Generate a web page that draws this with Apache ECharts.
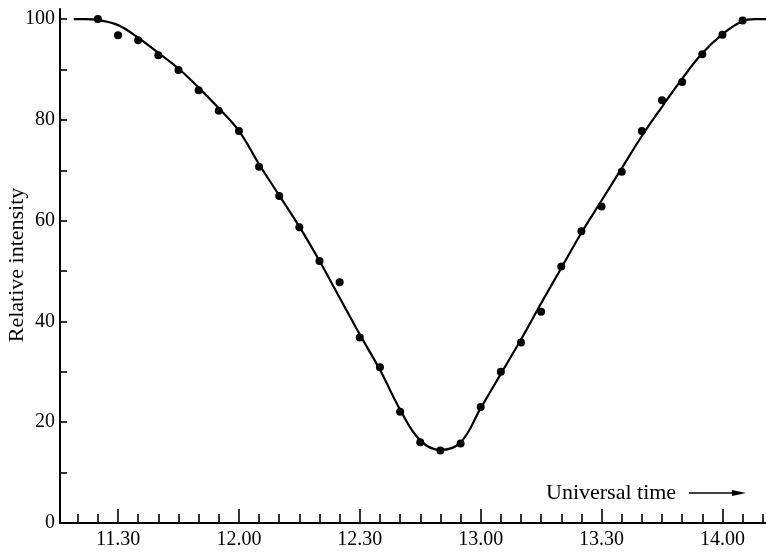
<!DOCTYPE html>
<html>
<head>
<meta charset="utf-8">
<script src="https://cdn.jsdelivr.net/npm/echarts@6/dist/echarts.min.js"></script>
<style>
html,body{margin:0;padding:0;background:#fff;}
#chart{width:766px;height:555px;}
</style>
</head>
<body>
<div id="chart"></div>
<script>
// Time is in minutes after 11.00 (Universal time)
const pointTimes = [25, 30, 35, 40, 45, 50, 55, 60, 65, 70, 75, 80, 85, 90, 95, 100, 105, 110, 115, 120, 125, 130, 135, 140, 145, 150, 155, 160, 165, 170, 175, 180, 185];
const pointValues = [100, 96.8, 95.8, 92.8, 89.9, 85.9, 81.8, 77.8, 70.7, 64.9, 58.7, 52.0, 47.8, 36.8, 30.9, 22.1, 16.0, 14.4, 15.8, 23.0, 30.0, 35.8, 41.9, 50.9, 57.9, 62.8, 69.7, 77.8, 83.9, 87.5, 93.0, 96.9, 99.7];

const curveTimes = [19, 22, 25, 30, 35, 40, 45, 50, 55, 60, 65, 70, 75, 80, 85, 90, 95, 100, 105, 110, 115, 120, 125, 130, 135, 140, 145, 150, 155, 160, 165, 170, 175, 180, 185, 188, 191];
const curveValues = [100, 100, 99.8, 98.8, 96.3, 93.3, 90.2, 86.4, 82.3, 77.8, 71.2, 65.0, 58.8, 52.0, 44.7, 37.4, 30.4, 22.5, 16.4, 14.5, 16.0, 22.8, 29.6, 36.4, 43.6, 50.6, 57.6, 64.0, 70.4, 76.8, 82.6, 88.2, 93.2, 97.0, 99.6, 100, 100];

const xLabelMinutes = [30, 60, 90, 120, 150, 180];
const xMinorTickMinutes = [20, 25, 35, 40, 45, 50, 55, 65, 70, 75, 80, 85, 95, 100, 105, 110, 115, 125, 130, 135, 140, 145, 155, 160, 165, 170, 175, 185, 190];
const yLabelValues = [0, 20, 40, 60, 80, 100];
const yTickValues = [0, 10, 20, 30, 40, 50, 60, 70, 80, 90, 100];

const yTitle = 'Relative intensity';
const xTitle = 'Universal time';

const FONT = '"Liberation Serif", "DejaVu Serif", serif';

function fmtTime(v) {
  const h = 11 + Math.floor(v / 60);
  const m = Math.round(v % 60);
  return h + '.' + (m < 10 ? '0' + m : m);
}

const chart = echarts.init(document.getElementById('chart'), null, {renderer: 'canvas'});

const X_MIN = 15.6, X_MAX = 190.8;

chart.setOption({
  animation: false,
  backgroundColor: '#fff',
  grid: {left: 60, right: 0, top: 9, bottom: 32, containLabel: false},
  xAxis: [
    {
      type: 'value', min: X_MIN, max: X_MAX, position: 'bottom',
      axisLine: {show: true, onZero: false, lineStyle: {color: '#000', width: 2}},
      axisTick: {show: true, inside: true, length: 14, lineStyle: {color: '#000', width: 1.6}, customValues: xLabelMinutes},
      axisLabel: {show: true, customValues: xLabelMinutes, formatter: fmtTime, color: '#000', fontFamily: FONT, fontSize: 20, margin: 7},
      splitLine: {show: false}
    },
    {
      type: 'value', min: X_MIN, max: X_MAX, position: 'bottom',
      axisLine: {show: false, onZero: false},
      axisTick: {show: true, inside: true, length: 9, lineStyle: {color: '#000', width: 1.6}, customValues: xMinorTickMinutes},
      axisLabel: {show: false},
      splitLine: {show: false}
    }
  ],
  yAxis: {
    type: 'value', min: 0, max: 102,
    axisLine: {show: true, onZero: false, lineStyle: {color: '#000', width: 2}},
    axisTick: {show: true, inside: true, length: 7, lineStyle: {color: '#000', width: 1.6}, customValues: yTickValues},
    axisLabel: {show: true, customValues: yLabelValues, color: '#000', fontFamily: FONT, fontSize: 20, margin: 5},
    splitLine: {show: false}
  },
  series: [
    {
      type: 'line', xAxisIndex: 0,
      data: curveTimes.map((t, i) => [t, curveValues[i]]),
      smooth: 0.4, showSymbol: false, symbol: 'none',
      lineStyle: {color: '#000', width: 2.2},
      silent: true
    },
    {
      type: 'scatter', xAxisIndex: 0,
      data: pointTimes.map((t, i) => [t, pointValues[i]]),
      symbol: 'circle', symbolSize: 8,
      itemStyle: {color: '#000', opacity: 1},
      silent: true
    }
  ],
  graphic: [
    {
      type: 'text', x: 17, y: 265, rotation: Math.PI / 2,
      style: {text: yTitle, fill: '#000', font: '22px ' + FONT, textAlign: 'center', textVerticalAlign: 'middle'}
    },
    {
      type: 'text', x: 546, y: 493,
      style: {text: xTitle, fill: '#000', font: '22px ' + FONT, textAlign: 'left', textVerticalAlign: 'middle'}
    },
    {
      type: 'polyline', shape: {points: [[689, 493], [736, 493]]},
      style: {stroke: '#000', lineWidth: 1.5}
    },
    {
      type: 'polygon', shape: {points: [[732, 490], [746, 493], [732, 496]]},
      style: {fill: '#000'}
    }
  ]
});
</script>
</body>
</html>
